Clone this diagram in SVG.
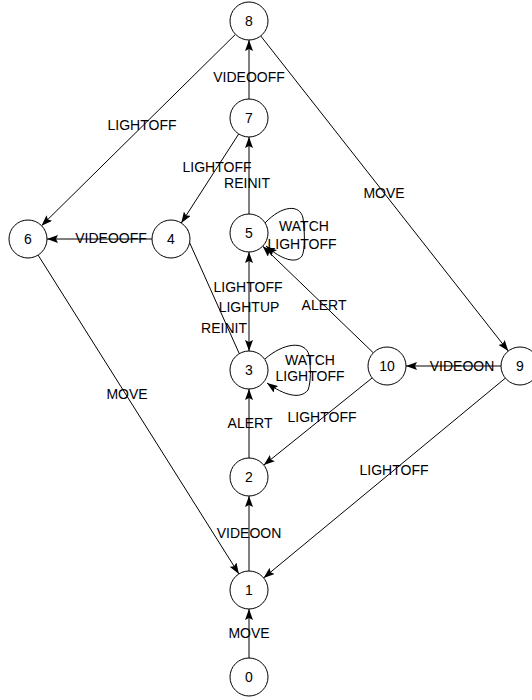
<svg xmlns="http://www.w3.org/2000/svg" width="532" height="700" viewBox="0 0 532 700">
<style>
.n circle{fill:#fff;stroke:#000;stroke-width:1}
text{font-family:"Liberation Sans",Arial,sans-serif;font-size:14px;fill:#000;text-anchor:middle}
.e line,.e path{stroke:#000;stroke-width:1;fill:none;marker-end:url(#ah)}
</style>
<defs>
<marker id="ah" markerWidth="11" markerHeight="8" refX="11" refY="4" orient="auto" markerUnits="userSpaceOnUse"><path d="M0,0 L11,4 L0,8 L2,4 z" fill="#000"/></marker>
<marker id="as" markerWidth="11" markerHeight="8" refX="11" refY="4" orient="auto-start-reverse" markerUnits="userSpaceOnUse"><path d="M0,0 L11,4 L0,8 L2,4 z" fill="#000"/></marker>
</defs>
<rect width="532" height="700" fill="#fff"/>
<g id="edges" class="e">
<line x1="249" y1="658" x2="249" y2="609"/>
<line x1="249" y1="571" x2="249" y2="496"/>
<line x1="249" y1="458" x2="249" y2="389"/>
<line x1="249" y1="351" x2="249" y2="252" style="marker-start:url(#as)"/>
<line x1="249" y1="214" x2="249" y2="137"/>
<line x1="249" y1="99" x2="249" y2="40"/>
<line x1="239.3" y1="353.7" x2="180.7" y2="222.7"/>
<line x1="238.7" y1="134" x2="181.3" y2="223"/>
<line x1="152" y1="239" x2="47" y2="239"/>
<line x1="235.5" y1="34.3" x2="41.5" y2="225.7"/>
<line x1="38.1" y1="255.1" x2="238.9" y2="573.9"/>
<line x1="260.7" y1="35.9" x2="508.3" y2="351.1"/>
<line x1="501" y1="366" x2="406" y2="366"/>
<line x1="505.4" y1="378.1" x2="263.6" y2="577.9"/>
<line x1="373.3" y1="352.8" x2="262.7" y2="246.2"/>
<line x1="372.2" y1="377.9" x2="263.8" y2="465.1"/>
<path d="M265,223 C282,205 300,204 303,218 C305,235 305,250 302,256 C296,264 282,260 266,246"/>
<path d="M265,359 C283,343 305,340 309,355 C311,368 311,382 308,390 C300,400 284,395 267,383"/>
<text x="249" y="638">MOVE</text>
<text x="249" y="538">VIDEOON</text>
<text x="250" y="428">ALERT</text>
<text x="322" y="422">LIGHTOFF</text>
<text x="394" y="475">LIGHTOFF</text>
<text x="248" y="292">LIGHTOFF</text>
<text x="249" y="312">LIGHTUP</text>
<text x="224" y="333">REINIT</text>
<text x="310" y="365">WATCH</text>
<text x="310" y="381">LIGHTOFF</text>
<text x="304" y="231">WATCH</text>
<text x="302" y="249">LIGHTOFF</text>
<text x="324" y="310">ALERT</text>
<text x="247" y="188">REINIT</text>
<text x="217" y="172">LIGHTOFF</text>
<text x="249" y="82">VIDEOOFF</text>
<text x="142" y="130">LIGHTOFF</text>
<text x="111" y="243">VIDEOOFF</text>
<text x="127" y="399">MOVE</text>
<text x="384" y="198">MOVE</text>
<text x="462" y="371">VIDEOON</text>
</g>
<g id="n8" class="n"><circle cx="249" cy="21" r="19"/><text x="249" y="26">8</text></g>
<g id="n7" class="n"><circle cx="249" cy="118" r="19"/><text x="249" y="123">7</text></g>
<g id="n5" class="n"><circle cx="249" cy="233" r="19"/><text x="249" y="238">5</text></g>
<g id="n3" class="n"><circle cx="249" cy="370" r="19"/><text x="249" y="375">3</text></g>
<g id="n2" class="n"><circle cx="249" cy="477" r="19"/><text x="249" y="482">2</text></g>
<g id="n1" class="n"><circle cx="249" cy="590" r="19"/><text x="249" y="595">1</text></g>
<g id="n0" class="n"><circle cx="249" cy="677" r="19"/><text x="249" y="682">0</text></g>
<g id="n6" class="n"><circle cx="28" cy="239" r="19"/><text x="28" y="244">6</text></g>
<g id="n4" class="n"><circle cx="171" cy="239" r="19"/><text x="171" y="244">4</text></g>
<g id="n10" class="n"><circle cx="387" cy="366" r="19"/><text x="387" y="371">10</text></g>
<g id="n9" class="n"><circle cx="520" cy="366" r="19"/><text x="520" y="371">9</text></g>
</svg>
